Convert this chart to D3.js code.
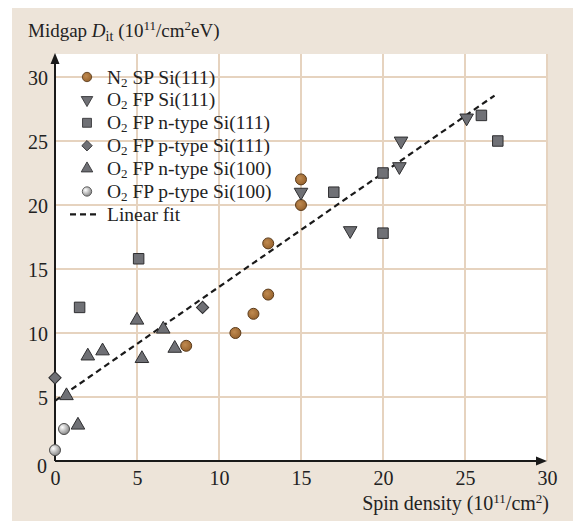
<!DOCTYPE html>
<html>
<head>
<meta charset="utf-8">
<script src="https://cdn.jsdelivr.net/npm/d3@7"></script>
<style>
  html, body { margin: 0; padding: 0; background: #fff; }
  svg { display: block; }
  text { font-family: "Liberation Serif", "Times New Roman", serif; fill: #222; }
</style>
</head>
<body>
<svg id="chart" width="573" height="521"></svg>
<script>
// Midgap interface trap density vs. ESR spin density
const seriesNames = [
  "N2 SP Si(111)",
  "O2 FP Si(111)",
  "O2 FP n-type Si(111)",
  "O2 FP p-type Si(111)",
  "O2 FP n-type Si(100)",
  "O2 FP p-type Si(100)"
];
const n2SpSi111 = [[8, 9], [11, 10], [12.1, 11.5], [13, 13], [13, 17], [15, 20], [15, 22]];
const o2FpSi111 = [[15, 21], [18, 18], [21, 23], [21.1, 25], [25.1, 26.8]];
const o2FpNSi111 = [[1.5, 12], [5.1, 15.8], [17, 21], [20, 17.8], [20, 22.5], [26, 27], [27, 25]];
const o2FpPSi111 = [[0, 6.5], [9, 12]];
const o2FpNSi100 = [[0.7, 5.1], [1.4, 2.8], [2, 8.2], [2.9, 8.6], [5, 11], [5.3, 8], [6.6, 10.3], [7.3, 8.8]];
const o2FpPSi100 = [[0, 0.85], [0.55, 2.5]];
const fitIntercept = 4.7, fitSlope = 0.89, fitXMax = 26.8;
const xTicks = [0, 5, 10, 15, 20, 25, 30];
const yTicks = [0, 5, 10, 15, 20, 25, 30];

const svg = d3.select("#chart");

// panel backgrounds
svg.append("rect").attr("x", 12).attr("y", 8).attr("width", 561).attr("height", 513).attr("fill", "#ede4d9");
svg.append("rect").attr("x", 55).attr("y", 54).attr("width", 492).attr("height", 407).attr("fill", "#ffffff");

const x = d3.scaleLinear().domain([0, 30]).range([55, 547]);
const y = d3.scaleLinear().domain([0, 30]).range([461, 77]);

// grid
const grid = svg.append("g").attr("stroke", "#e6d3bf").attr("stroke-width", 2);
xTicks.filter(d => d > 0).forEach(d => {
  grid.append("line").attr("x1", x(d)).attr("x2", x(d)).attr("y1", 54).attr("y2", 461);
});
yTicks.filter(d => d > 0).forEach(d => {
  grid.append("line").attr("x1", 55).attr("x2", 547).attr("y1", y(d)).attr("y2", y(d));
});

// axes with arrowheads
const defs = svg.append("defs");
const ax = svg.append("g").attr("stroke", "#1a1a1a").attr("stroke-width", 2);
ax.append("line").attr("x1", 55).attr("x2", 538).attr("y1", 461).attr("y2", 461);
ax.append("line").attr("x1", 55).attr("x2", 55).attr("y1", 461).attr("y2", 63);
svg.append("path").attr("d", "M547,461 L536,456.5 L536,465.5 Z").attr("fill", "#1a1a1a");
svg.append("path").attr("d", "M55,53 L50.5,64 L59.5,64 Z").attr("fill", "#1a1a1a");

// tick labels
const xAxis = d3.axisBottom(x).tickValues(xTicks).tickSize(0).tickPadding(0).tickFormat(d3.format("d"));
const gx = svg.append("g").attr("transform", "translate(0,466)").call(xAxis);
gx.select(".domain").remove();
gx.selectAll("text").attr("font-size", 20).attr("fill", "#222").attr("dy", "0.95em")
  .style("font-family", '"Liberation Serif", serif');

const yAxis = d3.axisLeft(y).tickValues(yTicks).tickSize(0).tickPadding(0).tickFormat(d3.format("d"));
const gy = svg.append("g").attr("transform", "translate(48,0)").call(yAxis);
gy.select(".domain").remove();
gy.selectAll("text").attr("font-size", 20).attr("fill", "#222").attr("dy", "0.35em")
  .style("font-family", '"Liberation Serif", serif');
gy.selectAll(".tick").filter(d => d === 0).select("text").attr("dy", "0.55em").attr("x", -1);

// axis titles
const yTitle = svg.append("text").attr("x", 28).attr("y", 37).attr("font-size", 19);
yTitle.append("tspan").text("Midgap ");
yTitle.append("tspan").attr("font-style", "italic").text("D");
yTitle.append("tspan").attr("font-size", 14).attr("dy", 4).text("it");
yTitle.append("tspan").attr("dy", -4).text(" (10");
yTitle.append("tspan").attr("font-size", 13).attr("dy", -7).text("11");
yTitle.append("tspan").attr("dy", 7).text("/cm");
yTitle.append("tspan").attr("font-size", 13).attr("dy", -7).text("2");
yTitle.append("tspan").attr("dy", 7).text("eV)");

const xTitle = svg.append("text").attr("x", 549).attr("y", 510).attr("font-size", 20).attr("text-anchor", "end");
xTitle.append("tspan").text("Spin density (10");
xTitle.append("tspan").attr("font-size", 13).attr("dy", -7).text("11");
xTitle.append("tspan").attr("dy", 7).text("/cm");
xTitle.append("tspan").attr("font-size", 13).attr("dy", -7).text("2");
xTitle.append("tspan").attr("dy", 7).text(")");

// marker fills
const brownGrad = defs.append("radialGradient").attr("id", "brown").attr("cx", "40%").attr("cy", "40%").attr("r", "60%");
brownGrad.append("stop").attr("offset", "0%").attr("stop-color", "#c08a50");
brownGrad.append("stop").attr("offset", "100%").attr("stop-color", "#98642e");
const greyGrad = defs.append("radialGradient").attr("id", "silver").attr("cx", "35%").attr("cy", "35%").attr("r", "65%");
greyGrad.append("stop").attr("offset", "0%").attr("stop-color", "#ffffff");
greyGrad.append("stop").attr("offset", "100%").attr("stop-color", "#8c8c8c");

const styles = [
  { data: n2SpSi111, type: d3.symbolCircle, size: 95, rot: 0, fill: "url(#brown)", stroke: "#5a3b1c" },
  { data: o2FpSi111, type: d3.symbolTriangle, size: 80, rot: 180, fill: "#6f7075", stroke: "#2e2e30" },
  { data: o2FpNSi111, type: d3.symbolSquare, size: 110, rot: 0, fill: "#707176", stroke: "#2e2e30" },
  { data: o2FpPSi111, type: d3.symbolDiamond, size: 75, rot: 0, fill: "#6f7075", stroke: "#2e2e30", square: true },
  { data: o2FpNSi100, type: d3.symbolTriangle, size: 80, rot: 0, fill: "#6f7075", stroke: "#2e2e30" },
  { data: o2FpPSi100, type: d3.symbolCircle, size: 95, rot: 0, fill: "url(#silver)", stroke: "#4a4a4a" }
];
function symPath(s) {
  return s.square ? d3.symbol().type(d3.symbolSquare).size(s.size)() : d3.symbol().type(s.type).size(s.size)();
}
function symRot(s) { return s.square ? 45 : s.rot; }

// linear fit
svg.append("line")
  .attr("x1", x(0)).attr("y1", y(fitIntercept))
  .attr("x2", x(fitXMax)).attr("y2", y(fitIntercept + fitSlope * fitXMax))
  .attr("stroke", "#1a1a1a").attr("stroke-width", 2.2).attr("stroke-dasharray", "6,4");

// data markers
styles.forEach(s => {
  svg.append("g").selectAll("path").data(s.data).join("path")
    .attr("d", symPath(s))
    .attr("transform", d => `translate(${x(d[0])},${y(d[1])}) rotate(${symRot(s)})`)
    .attr("fill", s.fill).attr("stroke", s.stroke).attr("stroke-width", 1);
});

// legend
const legend = svg.append("g");
const legY0 = 77, legStep = 22.9, legMX = 87, legTX = 107;
styles.forEach((s, i) => {
  const yy = legY0 + i * legStep;
  legend.append("path").attr("d", symPath(s))
    .attr("transform", `translate(${legMX},${yy}) rotate(${symRot(s)}) scale(0.85)`)
    .attr("fill", s.fill).attr("stroke", s.stroke).attr("stroke-width", 1);
  const name = seriesNames[i];
  const t = legend.append("text").attr("x", legTX).attr("y", yy + 6.5).attr("font-size", 19.5);
  t.append("tspan").text(name.slice(0, 1));
  t.append("tspan").attr("font-size", 13).attr("dy", 3).text(name.slice(1, 2));
  t.append("tspan").attr("dy", -3).text(name.slice(2));
});
const fy = legY0 + 6 * legStep;
legend.append("line").attr("x1", 70).attr("x2", 100).attr("y1", fy).attr("y2", fy)
  .attr("stroke", "#1a1a1a").attr("stroke-width", 2.2).attr("stroke-dasharray", "6,4");
legend.append("text").attr("x", legTX).attr("y", fy + 6.5).attr("font-size", 19.5).text("Linear fit");
</script>
</body>
</html>
